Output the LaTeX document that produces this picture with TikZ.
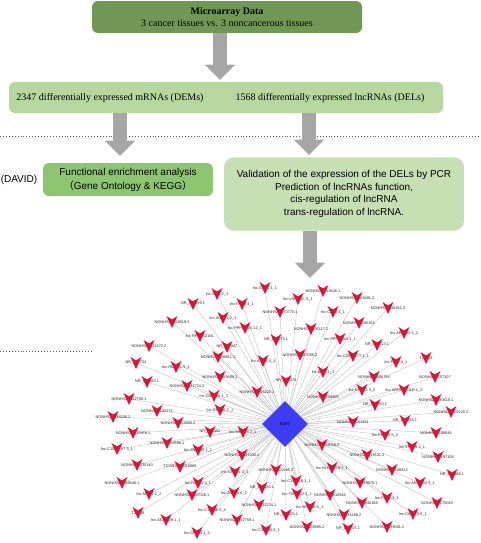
\documentclass[tikz,border=0pt]{standalone}
\usepackage{fontspec}
\setmainfont{Liberation Serif}
\newfontfamily\arialf{Liberation Sans}
\newfontfamily\cjkf{Noto Sans CJK SC}
\usetikzlibrary{shapes.geometric,arrows.meta}
\pgfdeclarelayer{background}
\pgfsetlayers{background,main}
\definecolor{darkgreen}{RGB}{112,152,84}
\definecolor{lightgreen}{RGB}{183,215,160}
\definecolor{midgreen}{RGB}{142,197,112}
\definecolor{palegreen}{RGB}{198,224,180}
\definecolor{arrowgray}{RGB}{166,166,166}
\definecolor{veered}{RGB}{230,14,58}
\definecolor{hubblue}{RGB}{60,60,245}
\definecolor{edgegray}{RGB}{200,200,200}
\definecolor{dotgray}{RGB}{95,95,95}
\definecolor{labgray}{RGB}{40,40,40}
\begin{document}
\begin{tikzpicture}[x=0.75pt,y=-0.75pt,
  box/.style={rounded corners=4.5pt, align=center, inner sep=0pt, text=black},
  serifbig/.style={font=\fontsize{7.5pt}{9pt}\selectfont},
  sansbig/.style={font=\arialf\fontsize{7.5pt}{9.5pt}\selectfont},
  bigarrow/.style={draw=arrowgray, line width=10.5pt, -{Triangle[width=22pt,length=11.5pt]}},
  dotline/.style={draw=dotgray, line width=0.7pt, dash pattern=on 0.7pt off 1.5pt},
  lab/.style={inner sep=0pt, text=labgray, font=\arialf\fontsize{2.9pt}{3.4pt}\selectfont},
  edge/.style={draw=edgegray, line width=0.35pt}]
\useasboundingbox (0,0) rectangle (480,543);

% dotted separators
\draw[dotline] (0,136) -- (480,136);
\draw[dotline] (0,351) -- (92,351);

% flowchart boxes
\node[box, serifbig, fill=darkgreen, minimum width=202.5pt, minimum height=24pt] (micro) at (227,17)
  {\textbf{Microarray Data}\\3 cancer tissues vs. 3 noncancerous tissues};
\node[box, fill=lightgreen, minimum width=325.5pt, minimum height=23.25pt] (diff) at (226,97.5) {};
\node[serifbig, inner sep=0pt] (dem) at (110,98) {2347 differentially expressed mRNAs (DEMs)};
\node[serifbig, inner sep=0pt] (del) at (330,98) {1568 differentially expressed lncRNAs (DELs)};
\node[sansbig, inner sep=0pt] (david) at (19,180) {(DAVID)};
\node[box, sansbig, fill=midgreen, minimum width=127.5pt, minimum height=24.75pt,
  font=\arialf\fontsize{7.5pt}{10.5pt}\selectfont] (func) at (128,179.5)
  {Functional enrichment analysis\\{\cjkf （}Gene Ontology \& KEGG{\cjkf ）}};
\node[box, sansbig, fill=palegreen, rounded corners=7.5pt, minimum width=180pt, minimum height=55pt] (valid) at (344,194)
  {Validation of the expression of the DELs by PCR\\Prediction of lncRNAs function,\\cis-regulation of lncRNA\\trans-regulation of lncRNA.};

% block arrows
\coordinate (a1s) at (220,33);  \coordinate (a1e) at (220,80);
\coordinate (a2s) at (120,113); \coordinate (a2e) at (120,156);
\coordinate (a3s) at (309,113); \coordinate (a3e) at (309,155);
\coordinate (a4s) at (310,231); \coordinate (a4e) at (310,278);
\draw[bigarrow] (a1s) -- (a1e);
\draw[bigarrow] (a2s) -- (a2e);
\draw[bigarrow] (a3s) -- (a3e);
\draw[bigarrow] (a4s) -- (a4e);

% network hub
\node[diamond, fill=hubblue, minimum width=34.5pt, minimum height=34.5pt, inner sep=0pt,
  font=\arialf\fontsize{3.2pt}{3.5pt}\selectfont] (hub) at (285,424) {E2F4};

% network labels
\foreach \x/\y/\t [count=\i] in {
217/294/lnc-SIX1-2\_1,
265/288/lnc-SSR1-1\_1,
193/304/NR\_003319.1,
242/304/lnc-PAX3-3\_1,
172/322/NONHSAT208919.1,
223/318/lnc-AGAP1-2\_1,
245/328/lnc-PPP1R3G-12\_1,
200/336/lnc-RP11-521N1,
149/346/NONHSAT041472.2,
227/347/NR\_102947,
136/363/NR\_002734,
176/367/lnc-HMGB1-5\_1,
218/357/NONHSAT189911.1,
263/361/lnc-ATP5I-4\_1,
220/377/NONHSAT169469.1,
147/382/NR\_026583.1,
187/386/NONHSAT131724.2,
214/396/lnc-CD300A-1\_1,
257/392/NONHSAT096225.1,
129/399/NONHSAT152708.1,
220/410/lnc-GPR26-2\_1,
157/411/NONHSAT192274,
323/291/NONHSAT163526.1,
298/299/lnc-LRRC3C-5\_1,
357/298/NONHSAT068481.2,
280/312/NONHSAT170770.1,
333/312/lnc-CD83-3\_1,
388/308/NONHSAT116451.2,
359/323/NONHSAT165194,
311/329/NONHSAT205117.2,
276/340/NR\_033075.1,
404/333/lnc-ARHGD-1\_2,
340/339/lnc-PPP2R5A-1\_1,
377/345/NR\_036513.1,
300/355/NONHSAT087005.2,
353/356/lnc-C20orf177-1\_1,
396/362/lnc-PIGT-4\_1,
426/358/T26003,
323/372/lnc-MBP-1\_1,
286/381/NR\_120374,
374/377/NONHSAT006754,
435/377/NONHSAT157107,
362/390/lnc-EFNB1-3\_2,
404/390/lnc-ARHGAP11B-1\_2,
323/397/NONHSAT208905,
436/400/NONHSAT180619.1,
375/405/NR\_033950.1,
451/412/NONHSAT102120.2,
353/422/NONHSAT151931,
405/421/NR\_015676.1,
436/433/NONHSAT188646,
385/435/lnc-PHF20-5\_2,
322/445/NONHSAT038018.2,
412/447/lnc-VPS28-2\_1,
367/455/NONHSAT015531.2,
438/457/NONHSAT197108,
332/468/lnc-KLHDC7B-3\_1,
392/470/NONHSAT108412,
276/470/NONHSAT002465.2,
452/475/NR\_104688.1,
296/481/lnc-C1orf116-3\_1,
360/483/NONHSAT149978.1,
420/483/lnc-ANKRD2-9\_1,
262/488/NR\_026120.1,
297/494/lnc-TXNRD3-1\_1,
330/495/NONHSAT012546,
387/498/lnc-PAX5-3\_1,
362/503/NONHSAT040168,
437/503/NONHSAT175049,
259/505/NONHSAT192274.1,
310/507/lnc-BMP8B-5\_1,
286/515/NR\_033605.1,
344/515/NONHSAT031468.2,
413/514/lnc-C6orf70-6\_1,
266/530/lnc-C3orf30-3\_1,
307/527/NONHSAT128965.2,
348/529/NR\_110707.1,
387/527/NONHSAT139001.2,
113/417/NONHSAT138206.2,
178/423/NONHSAT123900.2,
133/433/NONHSAT112978.1,
210/432/NR\_104452,
243/432/lnc-MRPS5-2\_1,
167/443/NONHSAT004598.1,
117/449/lnc-C10orf107-3\_1,
198/450/lnc-ZNF385-1\_1,
242/455/NONHSAT041930.2,
137/465/NONHSAT035140,
180/467/TCONS\_00016966,
235/472/lnc-GPR45-3\_1,
122/483/NONHSAT166848.1,
198/483/lnc-RAB11-3\_1,
149/494/lnc-NRG4-2\_2,
192/495/NONHSAT107026.1,
234/493/lnc-ZNF71-6\_1,
138/513/T26596,
212/510/lnc-C1orf56-2\_4,
166/520/lnc-ANKRD9-1\_1,
237/520/NONHSAT152759.1,
197/533/lnc-GRIA3-1\_4}{
  \node[lab] (n\i) at (\x,\y) {\t};
  \xdef\nnodes{\i}
}

% edges to hub
\begin{pgfonlayer}{background}
\foreach \i in {1,...,\nnodes}{
  \draw[edge] (n\i.center) -- (hub.center);
}
\end{pgfonlayer}

% vee markers
\foreach \i in {1,...,\nnodes}{
  \fill[veered] (n\i.center) ++(-5.5,-6) -- ++(5.5,3.5) -- ++(5.5,-3.5) -- ++(-5.5,12) -- cycle;
}
\end{tikzpicture}
\end{document}
